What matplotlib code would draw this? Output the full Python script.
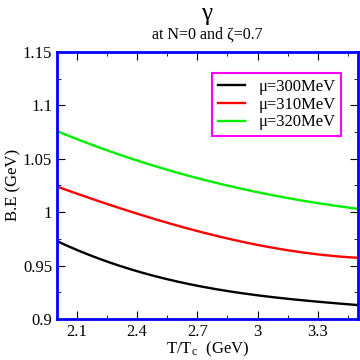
import numpy as np
import matplotlib
matplotlib.use('Agg')
import matplotlib.pyplot as plt
from matplotlib.ticker import MultipleLocator

# values
temp = [2.0, 2.1, 2.4, 2.7, 3.0, 3.3, 3.5]
be_300 = [0.972, 0.966, 0.944, 0.931, 0.9225, 0.916, 0.913]
be_310 = [1.024, 1.017, 0.999, 0.982, 0.969, 0.961, 0.957]
be_320 = [1.076, 1.068, 1.049, 1.031, 1.019, 1.0085, 1.003]
labels = ['μ=300MeV', 'μ=310MeV', 'μ=320MeV']
colors = ['black', 'red', '#00ee00']

plt.rcParams['font.family'] = ['Liberation Serif', 'DejaVu Serif']
plt.rcParams['mathtext.fontset'] = 'stix'

def smooth(x, y):
    # cubic fit through the read-off points to draw a smooth curve
    c = np.polyfit(x, y, 3)
    xs = np.linspace(min(x), max(x), 200)
    return xs, np.polyval(c, xs)

fig = plt.figure(figsize=(3.6, 3.6), dpi=100)
ax = fig.add_axes([0.158, 0.114, 0.836, 0.742])

for ys, lab, col in zip([be_300, be_310, be_320], labels, colors):
    xs, yy = smooth(temp, ys)
    ax.plot(xs, yy, color=col, lw=1.7, label=lab)

ax.set_xlim(2.0, 3.5)
ax.set_ylim(0.9, 1.15)
ax.xaxis.set_minor_locator(MultipleLocator(0.15))
ax.yaxis.set_minor_locator(MultipleLocator(0.025))
ax.set_xticks([2.1, 2.4, 2.7, 3.0, 3.3])
ax.set_xticklabels(['2.1', '2.4', '2.7', '3', '3.3'])
ax.set_yticks([0.9, 0.95, 1.0, 1.05, 1.1, 1.15])
ax.set_yticklabels(['0.9', '0.95', '1', '1.05', '1.1', '1.15'])
ax.tick_params(which='both', direction='in', top=True, right=True, labelsize=12)
ax.tick_params(which='major', length=6)
ax.tick_params(which='minor', length=3)
for s in ax.spines.values():
    s.set_color('blue')
    s.set_linewidth(2)

ax.set_xlabel('T/T$_\\mathregular{c}$  (GeV)', fontsize=12, labelpad=0)
ax.set_ylabel('B.E (GeV)', fontsize=12, labelpad=1)

fig.text(0.575, 0.962, 'γ', ha='center', va='center', fontsize=18)
fig.text(0.575, 0.905, 'at N=0 and ζ=0.7', ha='center', va='center', fontsize=11.5)

leg = ax.legend(loc='upper right', bbox_to_anchor=(0.945, 0.92), fontsize=12,
                fancybox=False, framealpha=1, borderpad=0.35, handlelength=1.6,
                handletextpad=0.8, labelspacing=0.1, borderaxespad=0)
leg.get_frame().set_edgecolor('magenta')
leg.get_frame().set_linewidth(1.5)

plt.savefig('out.png', dpi=100)
